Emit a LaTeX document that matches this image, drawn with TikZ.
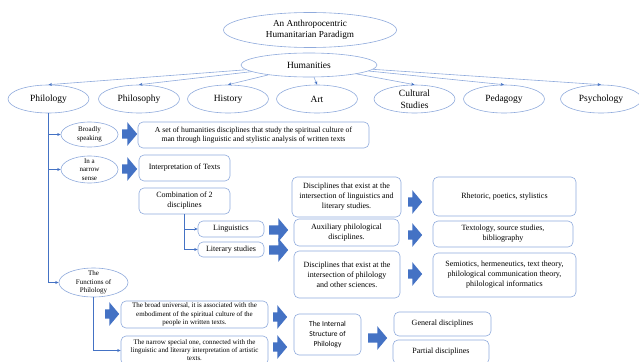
\documentclass[tikz,border=0pt]{standalone}
\usepackage{fontspec}
\setmainfont{Liberation Serif}
\newfontfamily\calibfont{Carlito}
\usetikzlibrary{shapes.geometric,shapes.arrows,arrows.meta}
\definecolor{lineblue}{HTML}{8FAADC}
\definecolor{arrowblue}{HTML}{4472C4}
\newcommand{\fs}[2]{\fontsize{#1}{#2}\selectfont}
\tikzstyle{oval}=[ellipse, draw=lineblue, line width=0.6pt, inner xsep=0pt, inner ysep=-2pt, align=center]
\tikzstyle{card}=[rectangle, rounded corners=5pt, draw=lineblue, line width=0.6pt, inner sep=0pt, align=center, font=\fs{8}{10}]
\tikzstyle{smallcard}=[card, font=\fs{7}{8.5}]
\tikzstyle{fatarrow}=[single arrow, fill=arrowblue, draw=none, inner xsep=0pt, inner ysep=4.5pt, minimum width=15pt, single arrow tip angle=100, anchor=tail]
\tikzstyle{branch}=[draw=arrowblue, line width=0.6pt, -{Stealth[length=3.5pt,width=3pt]}]
\tikzstyle{spread}=[draw=lineblue, line width=0.6pt, -{Stealth[length=3.5pt,width=3pt,color=arrowblue]}]

\begin{document}
\begin{tikzpicture}[x=1pt,y=-1pt]
\useasboundingbox (0,0) rectangle (639,361);
\clip (0,0) rectangle (639,361);

\node[oval, minimum width=173pt, minimum height=35pt, font=\fs{9.2}{11.3}] (paradigm) at (310,30) {An Anthropocentric\\Humanitarian Paradigm};
\node[oval, minimum width=136pt, minimum height=24pt, font=\fs{9.5}{11}] (humanities) at (309,65) {Humanities};
\foreach \name/\x/\txt in {philology/48.5/Philology, philosophy/139/Philosophy, history/228/History, art/317/Art, cultural/414.5/{Cultural\\Studies}, pedagogy/504/Pedagogy, psychology/601/Psychology} {
	\node[oval, minimum width=81pt, minimum height=28pt, font=\fs{9.5}{12}] (\name) at (\x,99) {\txt};
	\draw[spread] (humanities) -- (\name.north);
}

\node[oval, minimum width=57pt, minimum height=25pt, font=\fs{7}{8.5}] (broadly) at (89.5,134.5) {Broadly\\speaking};
\node[oval, minimum width=57pt, minimum height=27pt, font=\fs{7}{8.5}] (narrowsense) at (89.5,169.5) {In a\\narrow\\sense};
\node[oval, minimum width=69pt, minimum height=29pt, font=\fs{7}{8.5}] (functions) at (93.5,282.5) {The\\Functions of\\Philology};
\draw[branch] (philology.south) |- (functions.west);
\draw[branch] (philology.south |- broadly.west) -- (broadly.west);
\draw[branch] (philology.south |- narrowsense.west) -- (narrowsense.west);

\node[card, minimum width=231pt, minimum height=26pt, font=\fs{7.7}{9.5}] (humset) at (253.5,135) {A set of humanities disciplines that study the spiritual culture of\\man through linguistic and stylistic analysis of written texts};
\node[card, minimum width=91pt, minimum height=26pt] (interp) at (184.5,168) {Interpretation of Texts};
\node[card, minimum width=91pt, minimum height=26pt] (combination) at (184.5,201) {Combination of 2\\disciplines};
\node[card, minimum width=66pt, minimum height=16pt] (linguistics) at (231,229) {Linguistics};
\node[card, minimum width=66pt, minimum height=15pt] (literary) at (231,249.5) {Literary studies};
\draw[branch] (combination.south) |- (literary.west);
\draw[branch] (combination.south |- linguistics.west) -- (linguistics.west);

\node[card, minimum width=109pt, minimum height=40pt] (crossling) at (346.5,197) {Disciplines that exist at the\\intersection of linguistics and\\literary studies.};
\node[card, minimum width=105pt, minimum height=27pt] (auxiliary) at (346.5,232.5) {Auxiliary philological\\disciplines.};
\node[card, minimum width=106pt, minimum height=47pt] (crossphil) at (347,274.5) {Disciplines that exist at the\\intersection of philology\\and other sciences.};
\node[card, minimum width=143pt, minimum height=39pt] (rhetoric) at (504.5,196.5) {Rhetoric, poetics, stylistics};
\node[card, minimum width=140pt, minimum height=26pt] (textology) at (503,234) {Textology, source studies,\\bibliography};
\node[card, minimum width=143pt, minimum height=44pt] (semiotics) at (504.5,275) {Semiotics, hermeneutics, text theory,\\philological communication theory,\\philological informatics};

\node[smallcard, minimum width=147pt, minimum height=27pt] (broadfn) at (194.5,314.5) {The broad universal, it is associated with the\\embodiment of the spiritual culture of the\\people in written texts.};
\node[smallcard, minimum width=147pt, minimum height=29pt, font=\fs{7}{8}] (narrowfn) at (194.5,350.5) {The narrow special one, connected with the\\linguistic and literary interpretation of artistic\\texts.};
\draw[branch] (functions.south) |- (narrowfn.west);

\node[card, minimum width=67pt, minimum height=41pt, font=\calibfont\fs{7.5}{10}] (structure) at (327.5,334.5) {The Internal\\Structure of\\Philology};
\node[card, minimum width=97pt, minimum height=24pt] (general) at (442.5,324) {General disciplines};
\node[card, minimum width=96pt, minimum height=24pt] (partial) at (441,352) {Partial disciplines};

\foreach \x/\y/\len [count=\n] in {122/134/15, 122/169/15, 269/230/19, 269/250/19, 408/202/14, 408/235/14, 408/274/14, 105/314/14, 273/317/14, 273/347/14, 368/338/19}
	\node[fatarrow, minimum height=\len pt] (fat\n) at (\x,\y) {};
\end{tikzpicture}
\end{document}
